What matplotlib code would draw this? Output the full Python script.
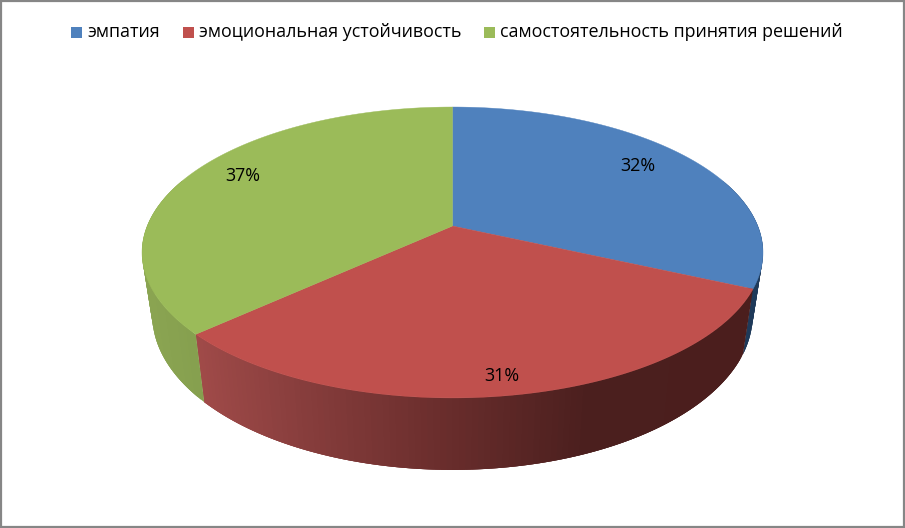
import numpy as np
import matplotlib
matplotlib.use("Agg")
import matplotlib.pyplot as plt
from matplotlib.patches import Polygon, Rectangle

categories = ["эмпатия", "эмоциональная устойчивость", "самостоятельность принятия решений"]
values = [31.8, 31.4, 36.8]
labels = ["32%", "31%", "37%"]

top_colors = ["#4F81BD", "#C0504D", "#9BBB59"]
legend_x = [71, 183, 484]
label_pos = [(638, 166), (502, 376), (243, 176)]

CX, CY = 452.5, 226.0
X, A, C = 305.3, -99.5, 0.182


def project(t):
    u, v = np.sin(t), np.cos(t)
    w = 1 + C * v
    return CX + X * u / w, (CY + A * v) / w


def project_low(t):
    x, y = project(t)
    return CX + (x - CX) * 0.967, y + 72 - (398 - y) * 0.064


def blend(stops, x):
    xs = [s[0] for s in stops]
    rgb = [matplotlib.colors.to_rgb(s[1]) for s in stops]
    return tuple(np.interp(x, xs, [c[i] for c in rgb]) for i in range(3))


wall_stops = [
    [(700, "#1F3A5A"), (770, "#1F3A5A")],
    [(190, "#A34C4A"), (300, "#8A3F3E"), (450, "#6B2E2D"), (600, "#4B1F1E"), (760, "#4B1E1D")],
    [(140, "#8BA552"), (200, "#86A04F")],
]

fig = plt.figure(figsize=(9.05, 5.28), dpi=100, facecolor="white")
ax = fig.add_axes([0, 0, 1, 1])
ax.set_xlim(0, 905)
ax.set_ylim(528, 0)
ax.axis("off")

ax.add_patch(Rectangle((1, 1), 902.5, 525.8, fill=False, ec="#868686", lw=1.6, zorder=5))

edges = np.radians(np.cumsum([0] + values) / sum(values) * 360)

# side wall: each slice gets one outline, then overlapping strips for the gradient
for i in range(len(values)):
    a0, a1 = max(edges[i], np.radians(70)), min(edges[i + 1], np.radians(290))
    if a1 <= a0:
        continue
    steps = np.linspace(a0, a1, int(np.degrees(a1 - a0)) + 2)
    # walk from the far end of the wall inward so each strip overlaps its neighbour
    for k in range(len(steps) - 1):
        s0 = steps[k]
        s1 = steps[min(k + 3, len(steps) - 1)]
        p = [project(s0), project(s1), project_low(s1), project_low(s0)]
        col = blend(wall_stops[i], np.mean([project(steps[k])[0], project(steps[k + 1])[0]]))
        ax.add_patch(Polygon(p, closed=True, fc=col, ec="none", zorder=1 + 0.001 * (len(steps) - k)))

# top face
for i in range(len(values)):
    t = np.linspace(edges[i], edges[i + 1], 200)
    x, y = project(t)
    pts = np.vstack([[CX, CY], np.column_stack([x, y])])
    ax.add_patch(Polygon(pts, closed=True, fc=top_colors[i], ec=top_colors[i], lw=0.3, zorder=2))

for lab, (x, y) in zip(labels, label_pos):
    ax.text(x, y, lab, ha="center", va="center", fontsize=12.9, family="Open Sans", color="black", zorder=3)

for name, col, x in zip(categories, top_colors, legend_x):
    ax.add_patch(Rectangle((x, 27), 11, 11, fc=col, ec="none", zorder=3))
    ax.text(x + 16, 32, name, ha="left", va="center", fontsize=12.9, family="Open Sans", color="black", zorder=3)

fig.savefig("out.png", dpi=100, facecolor="white")
